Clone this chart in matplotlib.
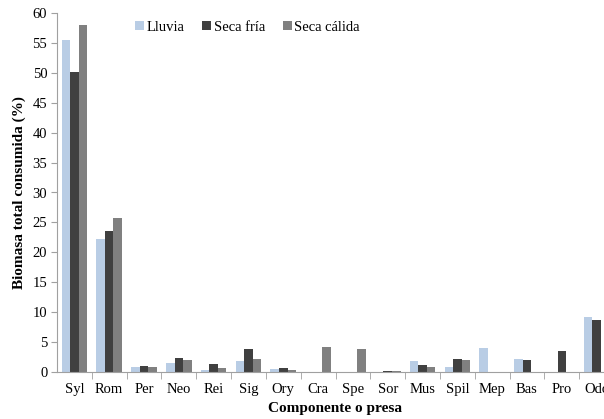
import numpy as np
import matplotlib
matplotlib.use('Agg')
import matplotlib.pyplot as plt

plt.rcParams['font.family'] = ['Liberation Serif', 'DejaVu Serif']

# categories (prey components)
categories = ['Syl', 'Rom', 'Per', 'Neo', 'Rei', 'Sig', 'Ory', 'Cra', 'Spe',
              'Sor', 'Mus', 'Spil', 'Mep', 'Bas', 'Pro', 'Odo']
# % total biomass consumed per season
lluvia = [55.5, 22.3, 0.9, 1.5, 0.3, 1.85, 0.45, 0.0, 0.0, 0.0, 1.8, 0.9, 4.0, 2.1, 0.0, 9.2]
seca_fria = [50.1, 23.5, 1.05, 2.3, 1.4, 3.8, 0.65, 0.0, 0.0, 0.2, 1.1, 2.2, 0.0, 2.0, 3.45, 8.7]
seca_calida = [58.0, 25.7, 0.8, 1.95, 0.65, 2.2, 0.3, 4.2, 3.9, 0.2, 0.8, 2.0, 0.0, 0.0, 0.0, 0.0]

series = [('Lluvia', lluvia, '#b9cde5'),
          ('Seca fría', seca_fria, '#404040'),
          ('Seca cálida', seca_calida, '#808080')]

fig = plt.figure(figsize=(6.04, 4.19), dpi=100)
# axes runs past the right edge of the figure (the original is cropped there)
ax = fig.add_axes([57/604, 1 - 372/419, 557/604, (372 - 13)/419])

x = np.arange(len(categories))
w = 0.245
for i, (name, vals, col) in enumerate(series):
    ax.bar(x + (i - 1) * w, vals, width=w, color=col, label=name)

ax.set_xlim(-0.5, len(categories) - 0.5)
ax.set_ylim(0, 60)
ax.set_yticks(range(0, 61, 5))

ax.set_xticks(x)
ax.set_xticklabels(categories)
ax.set_xticks(np.arange(0.5, len(categories) - 0.5, 1), minor=True)
ax.tick_params(axis='x', which='major', length=0, pad=8, labelsize=10.5)
ax.tick_params(axis='x', which='minor', length=5, color='#a0a0a0', direction='out')
ax.tick_params(axis='y', length=4, color='#a0a0a0', labelsize=10.5, pad=3)

for s in ['top', 'right']:
    ax.spines[s].set_visible(False)
for s in ['left', 'bottom']:
    ax.spines[s].set_color('#a0a0a0')

ax.set_ylabel('Biomasa total consumida (%)', fontsize=11, fontweight='bold', labelpad=5)
ax.set_xlabel('Componente o presa', fontsize=11, fontweight='bold', labelpad=4)

fig.legend(loc='center', bbox_to_anchor=(0.41, 0.935), ncol=3, frameon=False,
           fontsize=10.5, handlelength=0.6, handleheight=0.6, handletextpad=0.2,
           columnspacing=1.2)

fig.savefig('out.png', dpi=100)
